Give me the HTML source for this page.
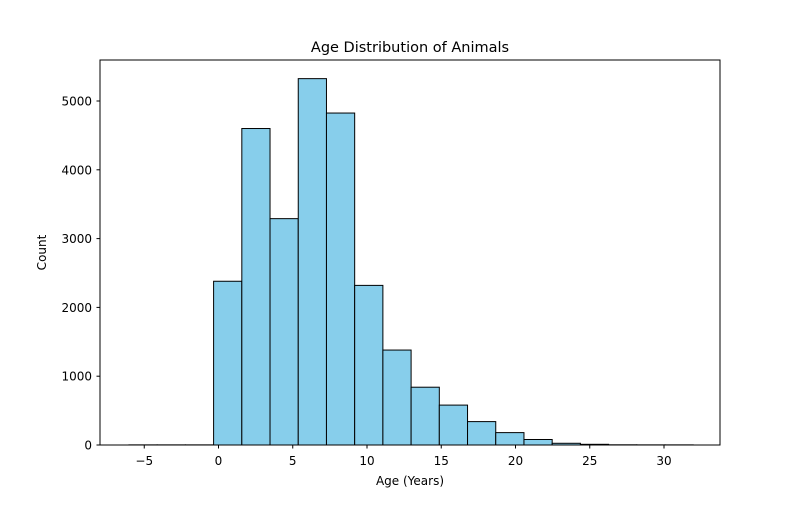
<!DOCTYPE html>
<html><head><meta charset="utf-8"><style>
body{margin:0;background:#fff;}
svg text{font-family:"DejaVu Sans","Liberation Sans",sans-serif;fill:#000;}
</style></head><body>
<svg id="chart" width="800" height="500" xmlns="http://www.w3.org/2000/svg">
<text x="410" y="52" text-anchor="middle" font-size="14.5">Age Distribution of Animals</text>
<g id="bars"></g>
<g id="xaxis"></g>
<g id="yaxis"></g>
<rect x="100" y="60" width="620" height="385" fill="none" stroke="#000" stroke-width="1"/>
<text x="410" y="485" text-anchor="middle" font-size="12">Age (Years)</text>
<text transform="translate(46,252.5) rotate(-90)" text-anchor="middle" font-size="12">Count</text>
</svg>
<script>
const binStart = -6.03;
const binWidth = 1.9;
const counts = [2, 2, 2, 2380, 4600, 3290, 5325, 4825, 2320, 1380, 840, 580, 340, 180, 80, 25, 10, 3, 2, 2];
const xTicks = [-5, 0, 5, 10, 15, 20, 25, 30];
const yTicks = [0, 1000, 2000, 3000, 4000, 5000];
const NS = "http://www.w3.org/2000/svg";
function xs(v){ return 218.5 + v * 14.85; }
function ys(v){ return 445 - v * 0.0688; }
const bars = document.getElementById('bars');
counts.forEach((c, i) => {
  const x0 = xs(binStart + i * binWidth), x1 = xs(binStart + (i + 1) * binWidth);
  const r = document.createElementNS(NS, 'rect');
  r.setAttribute('x', x0); r.setAttribute('y', ys(c));
  r.setAttribute('width', x1 - x0); r.setAttribute('height', 445 - ys(c));
  r.setAttribute('fill', '#87ceeb'); r.setAttribute('stroke', '#000'); r.setAttribute('stroke-width', '1');
  
  
  bars.appendChild(r);
});
const xa = document.getElementById('xaxis');
xTicks.forEach(t => {
  const l = document.createElementNS(NS, 'line');
  l.setAttribute('x1', xs(t)); l.setAttribute('x2', xs(t)); l.setAttribute('y1', 445); l.setAttribute('y2', 448.5);
  l.setAttribute('stroke', '#000');
  
  
  xa.appendChild(l);
  const tx = document.createElementNS(NS, 'text');
  tx.setAttribute('x', xs(t)); tx.setAttribute('y', 465); tx.setAttribute('text-anchor', 'middle'); tx.setAttribute('font-size', '12');
  tx.textContent = t < 0 ? '\u2212' + (-t) : String(t);
  
  
  xa.appendChild(tx);
});
const ya = document.getElementById('yaxis');
yTicks.forEach(t => {
  const l = document.createElementNS(NS, 'line');
  l.setAttribute('x1', 96.5); l.setAttribute('x2', 100); l.setAttribute('y1', ys(t)); l.setAttribute('y2', ys(t));
  l.setAttribute('stroke', '#000');
  
  
  ya.appendChild(l);
  const tx = document.createElementNS(NS, 'text');
  tx.setAttribute('x', 92); tx.setAttribute('y', ys(t) + 4.5); tx.setAttribute('text-anchor', 'end'); tx.setAttribute('font-size', '12');
  tx.textContent = String(t);
  
  
  ya.appendChild(tx);
});
</script>
</body></html>
